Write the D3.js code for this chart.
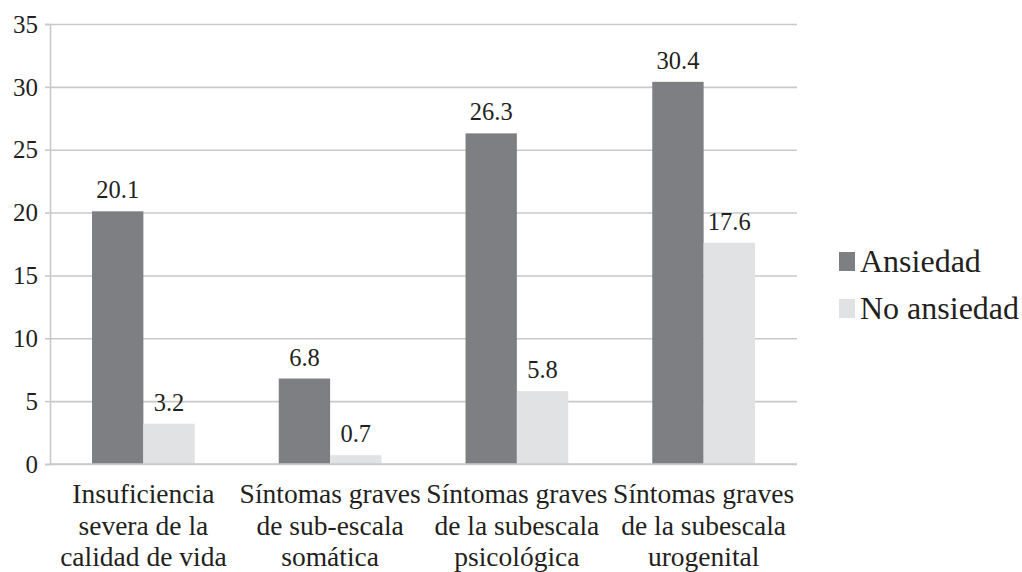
<!DOCTYPE html>
<html>
<head>
<meta charset="utf-8">
<script src="https://cdn.jsdelivr.net/npm/d3@7"></script>
</head>
<body style="margin:0">
<svg id="chart" width="1022" height="572"></svg>
<script>
const categories = [
  ["Insuficiencia", "severa de la", "calidad de vida"],
  ["Síntomas graves", "de sub-escala", "somática"],
  ["Síntomas graves", "de la subescala", "psicológica"],
  ["Síntomas graves", "de la subescala", "urogenital"]
];
const seriesNames = ["Ansiedad", "No ansiedad"];
const ansiedad = [20.1, 6.8, 26.3, 30.4];
const noAnsiedad = [3.2, 0.7, 5.8, 17.6];
const yTicks = [0, 5, 10, 15, 20, 25, 30, 35];
const colors = ["#7e7f82", "#e1e2e4"];

const FONT = "Liberation Serif";
const TXT = "#231f20";
const svg = d3.select("#chart");
const m = { left: 50, right: 225, top: 24, bottom: 108 };
const W = 1022, H = 572;

const x0 = d3.scaleBand().domain(d3.range(categories.length)).range([m.left, W - m.right]).padding(0);
const x1 = d3.scaleBand().domain(seriesNames)
  .range([x0.bandwidth() * 0.225, x0.bandwidth() * 0.775]).padding(0);
const y = d3.scaleLinear().domain([0, 35]).range([H - m.bottom, m.top]);

// gridlines
svg.append("g")
  .attr("transform", `translate(${m.left},0)`)
  .call(d3.axisLeft(y).tickValues(yTicks).tickSize(-(W - m.right - m.left)).tickFormat(""))
  .call(g => g.select(".domain").remove())
  .call(g => g.selectAll("text").remove())
  .call(g => g.selectAll("line").attr("stroke", "#c9c9c9").attr("stroke-width", 1.6));

// y axis: line + tick marks from the axis, labels drawn as own texts
const yAxis = svg.append("g")
  .attr("transform", `translate(${m.left},0)`)
  .call(d3.axisLeft(y).tickValues(yTicks).tickSize(5).tickFormat(""));
yAxis.attr("font-family", FONT).attr("font-size", 25);
yAxis.selectAll("text").remove();
yAxis.select(".domain").attr("stroke", "#c9c9c9").attr("stroke-width", 1.6);
yAxis.selectAll("line").attr("stroke", "#c9c9c9").attr("stroke-width", 1.6);

svg.append("g").selectAll("text").data(yTicks).join("text")
  .attr("x", m.left - 12)
  .attr("y", d => y(d))
  .attr("dy", "0.35em")
  .attr("text-anchor", "end")
  .attr("font-family", FONT).attr("font-size", 25).attr("fill", TXT)
  .text(d => d3.format("d")(d));

const data = categories.map((c, i) => ({ i, vals: [ansiedad[i], noAnsiedad[i]] }));

const groups = svg.append("g").selectAll("g").data(data).join("g")
  .attr("transform", d => `translate(${x0(d.i)},0)`);

groups.selectAll("rect").data(d => d.vals.map((v, k) => ({ k, v }))).join("rect")
  .attr("x", d => x1(seriesNames[d.k]))
  .attr("y", d => y(d.v))
  .attr("width", x1.bandwidth())
  .attr("height", d => y(0) - y(d.v))
  .attr("fill", d => colors[d.k]);

groups.selectAll("text.val").data(d => d.vals.map((v, k) => ({ k, v }))).join("text")
  .attr("class", "val")
  .attr("x", d => x1(seriesNames[d.k]) + x1.bandwidth() / 2)
  .attr("y", d => y(d.v) - 13)
  .attr("text-anchor", "middle")
  .attr("font-family", FONT).attr("font-size", 24.5).attr("fill", TXT)
  .text(d => d3.format(".1f")(d.v));

// bottom axis line
svg.append("line")
  .attr("x1", m.left).attr("x2", W - m.right)
  .attr("y1", y(0)).attr("y2", y(0))
  .attr("stroke", "#c9c9c9").attr("stroke-width", 1.6);

// category labels
const catG = svg.append("g").selectAll("text").data(categories).join("text")
  .attr("x", (d, i) => x0(i) + x0.bandwidth() / 2)
  .attr("y", y(0) + 39)
  .attr("text-anchor", "middle")
  .attr("font-family", FONT).attr("font-size", 27.5).attr("fill", TXT);
catG.selectAll("tspan").data(d => d).join("tspan")
  .attr("x", function () { return d3.select(this.parentNode).attr("x"); })
  .attr("dy", (d, j) => j === 0 ? 0 : 31.5)
  .text(d => d);

// legend
const leg = svg.append("g").attr("transform", "translate(839,252)");
seriesNames.forEach((s, k) => {
  const g = leg.append("g").attr("transform", `translate(0,${k * 47})`);
  g.append("rect").attr("width", 16).attr("height", 19).attr("fill", colors[k]);
  g.append("text").attr("x", 21).attr("y", 20)
    .attr("font-family", FONT).attr("font-size", 32).attr("fill", TXT)
    .text(s);
});
</script>
</body>
</html>
